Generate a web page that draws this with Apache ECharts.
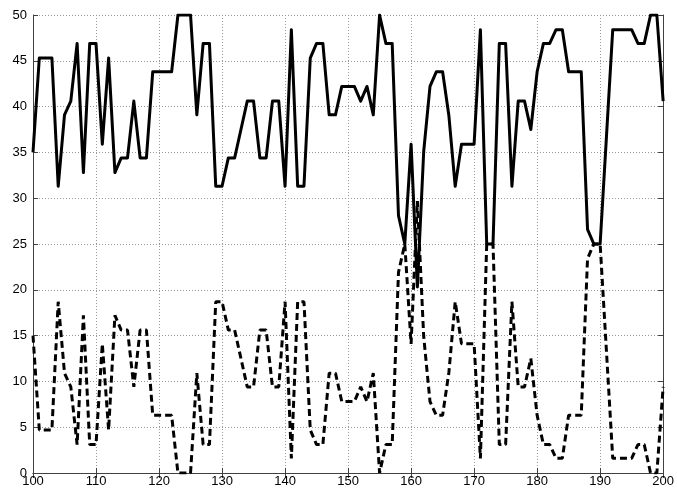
<!DOCTYPE html>
<html>
<head>
<meta charset="utf-8">
<script src="https://cdn.jsdelivr.net/npm/echarts@6/dist/echarts.min.js"></script>
<style>html,body{margin:0;padding:0;background:#fff;}#c{width:677px;height:491px;}</style>
</head>
<body>
<div id="c"></div>
<script>
const xs = [100,101,102,103,104,105,106,107,108,109,110,111,112,113,114,115,116,117,118,119,
120,121,122,123,124,125,126,127,128,129,130,131,132,133,134,135,136,137,138,139,
140,141,142,143,144,145,146,147,148,149,150,151,152,153,154,155,156,157,158,159,
160,161,162,163,164,165,166,167,168,169,170,171,172,173,174,175,176,177,178,179,
180,181,182,183,184,185,186,187,188,189,190,191,192,193,194,195,196,197,198,199,200];

const solidVals = [35.0,45.3,45.3,45.3,31.3,39.1,40.6,46.9,32.8,46.9,
46.9,35.9,45.3,32.8,34.4,34.4,40.6,34.4,34.4,43.8,
43.8,43.8,43.8,50,50,50,39.1,46.9,46.9,31.3,
31.3,34.4,34.4,37.5,40.6,40.6,34.4,34.4,40.6,40.6,
31.3,48.4,31.3,31.3,45.3,46.9,46.9,39.1,39.1,42.2,
42.2,42.2,40.6,42.2,39.1,50,46.9,46.9,28.1,25.0,
35.9,20.3,35.1,42.2,43.8,43.8,39.0,31.3,35.9,35.9,
35.9,48.4,25.0,25.0,46.9,46.9,31.3,40.6,40.6,37.5,
43.8,46.9,46.9,48.4,48.4,43.8,43.8,43.8,26.6,25.0,
25.0,36.7,48.4,48.4,48.4,48.4,46.9,46.9,50,50,40.6];

const dashedVals = [15.0,4.7,4.7,4.7,18.7,10.9,9.4,3.1,17.2,3.1,
3.1,14.1,4.7,17.2,15.6,15.6,9.4,15.6,15.6,6.3,
6.3,6.3,6.3,0,0,0,10.9,3.1,3.1,18.7,
18.7,15.6,15.6,12.5,9.4,9.4,15.6,15.6,9.4,9.4,
18.7,1.6,18.7,18.7,4.7,3.1,3.1,10.9,10.9,7.8,
7.8,7.8,9.4,7.8,10.9,0,3.1,3.1,21.9,25.0,
14.1,29.7,14.9,7.8,6.3,6.3,11.0,18.7,14.1,14.1,
14.1,1.6,25.0,25.0,3.1,3.1,18.7,9.4,9.4,12.5,
6.3,3.1,3.1,1.6,1.6,6.3,6.3,6.3,23.4,25.0,
25.0,13.3,1.6,1.6,1.6,1.6,3.1,3.1,0,0,9.4];

const xTicks = [100,110,120,130,140,150,160,170,180,190,200];
const yTicks = [0,5,10,15,20,25,30,35,40,45,50];

const chart = echarts.init(document.getElementById('c'), null, {renderer:'canvas'});
const font = 'Liberation Sans, Arial, sans-serif';
const gridLine = {show:true, lineStyle:{color:'#9a9a9a', width:1, type:[1,2]}};
const axLine = {show:true, lineStyle:{color:'#404040', width:1}};
const tick = {show:true, inside:true, length:5, lineStyle:{color:'#404040'}};
chart.setOption({
  animation:false,
  backgroundColor:'#fff',
  grid:{left:33, right:12, top:15, bottom:18, containLabel:false},
  xAxis:[{
    type:'value', min:xTicks[0], max:xTicks[xTicks.length-1], interval:10,
    axisLine:axLine, axisTick:tick, splitLine:gridLine,
    axisLabel:{color:'#000', fontFamily:font, fontSize:13, margin:2}
  },{
    type:'value', position:'top', min:xTicks[0], max:xTicks[xTicks.length-1], interval:10,
    axisLine:axLine, axisTick:tick, splitLine:{show:false}, axisLabel:{show:false}
  }],
  yAxis:[{
    type:'value', min:yTicks[0], max:yTicks[yTicks.length-1], interval:5,
    axisLine:axLine, axisTick:tick, splitLine:gridLine,
    axisLabel:{color:'#000', fontFamily:font, fontSize:13, margin:6}
  },{
    type:'value', position:'right', min:yTicks[0], max:yTicks[yTicks.length-1], interval:5,
    axisLine:axLine, axisTick:tick, splitLine:{show:false}, axisLabel:{show:false}
  }],
  series:[{
    type:'line', data:xs.map((x,i)=>[x,solidVals[i]]), showSymbol:false, symbol:'none',
    lineStyle:{color:'#000', width:3, join:'round'}, z:3
  },{
    type:'line', data:xs.map((x,i)=>[x,dashedVals[i]]), showSymbol:false, symbol:'none',
    lineStyle:{color:'#000', width:3, type:[7,4]}, z:2
  }]
});
</script>
</body>
</html>
